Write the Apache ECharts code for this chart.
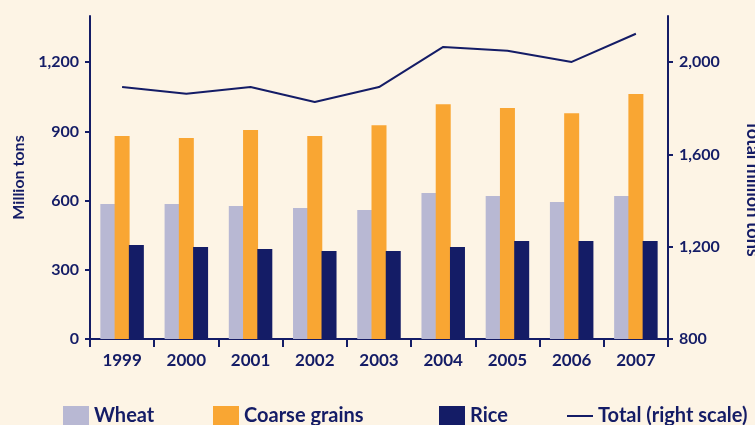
<!DOCTYPE html>
<html>
<head>
<meta charset="utf-8">
<script src="https://cdn.jsdelivr.net/npm/echarts@6/dist/echarts.min.js"></script>
<style>
  html, body { margin: 0; padding: 0; background: #fdf4e5; }
  #chart { width: 755px; height: 425px; }
</style>
</head>
<body>
<div id="chart"></div>
<script>
// data
const years = ['1999', '2000', '2001', '2002', '2003', '2004', '2005', '2006', '2007'];
const wheat = [585, 585, 576, 568, 559, 633, 620, 594, 620];
const coarseGrains = [880, 871, 906, 880, 927, 1018, 1001, 979, 1062];
const rice = [407, 399, 390, 381, 381, 399, 425, 425, 425];
const total = [1892, 1863, 1892, 1827, 1892, 2066, 2049, 2001, 2123];

const navy = '#141c66';
const labelFont = { color: navy, fontFamily: 'Lato', fontWeight: 'bold', fontSize: 16 };

const chart = echarts.init(document.getElementById('chart'), null, { renderer: 'canvas' });

function fmt(v) {
  return v.toLocaleString('en-US');
}

function legendAt(left, name, opts) {
  return Object.assign({
    left: left,
    top: 406,
    padding: 0,
    itemWidth: 26,
    itemHeight: 20,
    data: [name],
    textStyle: Object.assign({}, labelFont, { fontSize: 20 }),
    selectedMode: false
  }, opts || {});
}

chart.setOption({
  backgroundColor: '#fdf4e5',
  animation: false,
  grid: { left: 90, right: 87, top: 16, bottom: 86, outerBoundsMode: 'none' },
  legend: [
    legendAt(63, 'Wheat', { icon: 'rect' }),
    legendAt(213, 'Coarse grains', { icon: 'rect' }),
    legendAt(439, 'Rice', { icon: 'rect' }),
    legendAt(567, 'Total (right scale)', { icon: 'rect', itemHeight: 2 })
  ],
  xAxis: {
    type: 'category',
    data: years,
    axisLine: { lineStyle: { color: navy, width: 2 } },
    axisTick: { show: true, length: 8, lineStyle: { color: navy, width: 2 } },
    axisLabel: Object.assign({}, labelFont, { margin: 13, fontSize: 17 })
  },
  yAxis: [
    {
      type: 'value',
      min: 0,
      max: 1400,
      interval: 300,
      name: 'Million tons',
      nameLocation: 'middle',
      nameGap: 62,
      nameTextStyle: Object.assign({}, labelFont, { fontSize: 16 }),
      axisLine: { show: true, lineStyle: { color: navy, width: 2 } },
      axisTick: { show: true, length: 5, lineStyle: { color: navy, width: 2 } },
      axisLabel: Object.assign({ margin: 11, showMaxLabel: false, formatter: fmt }, labelFont),
      splitLine: { show: false }
    },
    {
      type: 'value',
      min: 800,
      max: 2200,
      interval: 400,
      name: 'Total million tons',
      nameLocation: 'middle',
      nameGap: 76,
      nameRotate: -90,
      nameTextStyle: Object.assign({}, labelFont, { fontSize: 18, padding: [0, 0, 0, 22] }),
      axisLine: { show: true, lineStyle: { color: navy, width: 2 } },
      axisTick: { show: true, length: 5, lineStyle: { color: navy, width: 2 } },
      axisLabel: Object.assign({ margin: 11, showMaxLabel: false, formatter: fmt }, labelFont),
      splitLine: { show: false }
    }
  ],
  series: [
    {
      name: 'Wheat',
      type: 'bar',
      data: wheat,
      barWidth: 15,
      barGap: '-5%',
      itemStyle: { color: '#b8b8d3' }
    },
    {
      name: 'Coarse grains',
      type: 'bar',
      data: coarseGrains,
      barWidth: 15,
      barGap: '-5%',
      itemStyle: { color: '#f9a633' }
    },
    {
      name: 'Rice',
      type: 'bar',
      data: rice,
      barWidth: 15,
      barGap: '-5%',
      itemStyle: { color: navy }
    },
    {
      name: 'Total (right scale)',
      type: 'line',
      yAxisIndex: 1,
      data: total,
      symbol: 'none',
      lineStyle: { color: navy, width: 2 },
      itemStyle: { color: navy }
    }
  ]
});
</script>
</body>
</html>
